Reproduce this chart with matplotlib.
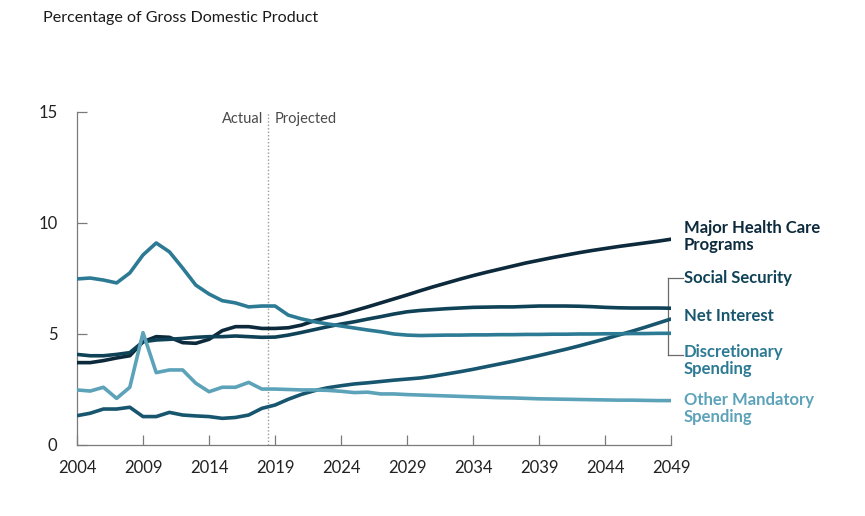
import matplotlib
matplotlib.use("Agg")

import matplotlib.pyplot as plt
import numpy as np

# ── Data (percentage of GDP), 2004-2049 ──
years = np.arange(2004, 2050)

health_care = [
    3.71, 3.71, 3.80, 3.92, 4.02, 4.65, 4.88, 4.85, 4.61, 4.58,
    4.76, 5.15, 5.33, 5.33, 5.25, 5.25, 5.28, 5.40, 5.60, 5.75,
    5.88, 6.05, 6.22, 6.40, 6.58, 6.76, 6.95, 7.13, 7.30, 7.47,
    7.63, 7.78, 7.92, 8.06, 8.20, 8.32, 8.44, 8.55, 8.66, 8.76,
    8.85, 8.94, 9.02, 9.10, 9.18, 9.27,
]
social_security = [
    4.08, 4.02, 4.02, 4.08, 4.16, 4.65, 4.73, 4.76, 4.80, 4.85,
    4.88, 4.88, 4.91, 4.88, 4.85, 4.86, 4.95, 5.07, 5.20, 5.33,
    5.45, 5.55, 5.67, 5.78, 5.90, 6.00, 6.06, 6.10, 6.14, 6.17,
    6.20, 6.21, 6.22, 6.22, 6.24, 6.26, 6.26, 6.26, 6.25, 6.23,
    6.20, 6.18, 6.17, 6.17, 6.17, 6.16,
]
net_interest = [
    1.32, 1.43, 1.62, 1.62, 1.70, 1.28, 1.28, 1.47, 1.35, 1.31,
    1.28, 1.20, 1.24, 1.35, 1.65, 1.80, 2.06, 2.28, 2.45, 2.58,
    2.67, 2.75, 2.80, 2.86, 2.92, 2.97, 3.02, 3.10, 3.20, 3.30,
    3.41, 3.53, 3.65, 3.77, 3.90, 4.03, 4.17, 4.31, 4.46, 4.62,
    4.78, 4.95, 5.12, 5.30, 5.49, 5.68,
]
discretionary = [
    7.48, 7.52, 7.43, 7.30, 7.75, 8.56, 9.10, 8.70, 7.97, 7.20,
    6.80, 6.50, 6.40, 6.22, 6.26, 6.26, 5.85, 5.68, 5.55, 5.45,
    5.36, 5.27, 5.18, 5.10, 5.00, 4.95, 4.93, 4.94, 4.95, 4.95,
    4.96, 4.96, 4.97, 4.97, 4.98, 4.98, 4.99, 4.99, 5.00, 5.00,
    5.01, 5.01, 5.02, 5.02, 5.03, 5.03,
]
other_mandatory = [
    2.48, 2.43, 2.60, 2.10, 2.60, 5.06, 3.26, 3.38, 3.38, 2.78,
    2.40, 2.60, 2.60, 2.82, 2.52, 2.52, 2.50, 2.48, 2.48, 2.46,
    2.42, 2.36, 2.38, 2.30, 2.30, 2.27, 2.25, 2.23, 2.21, 2.19,
    2.17, 2.15, 2.13, 2.12, 2.10, 2.08, 2.07, 2.06, 2.05, 2.04,
    2.03, 2.02, 2.02, 2.01, 2.00, 2.00,
]

series = [
    ("Major Health Care\nPrograms", health_care, "#0c2a3c"),
    ("Social Security", social_security, "#0f4257"),
    ("Net Interest", net_interest, "#17566e"),
    ("Discretionary\nSpending", discretionary, "#2c7a94"),
    ("Other Mandatory\nSpending", other_mandatory, "#5ca2b9"),
]

plt.rcParams["font.family"] = ["Lato", "DejaVu Sans"]

fig = plt.figure(figsize=(8.65, 5.16), dpi=100)
ax = fig.add_axes([0.089, 0.1376, 0.687, 0.6454])

for name, vals, color in series:
    ax.plot(years, vals, color=color, linewidth=2.6, solid_capstyle="butt",
            zorder=3)

ax.set_xlim(2004, 2049)
ax.set_ylim(0, 15)
ax.set_xticks(np.arange(2004, 2050, 5))
ax.set_yticks([0, 5, 10, 15])

for side in ("top", "right"):
    ax.spines[side].set_visible(False)
for side in ("left", "bottom"):
    ax.spines[side].set_color("#7a7a7a")
    ax.spines[side].set_linewidth(0.9)
ax.tick_params(axis="both", direction="in", length=7, width=0.9,
               color="#7a7a7a", labelsize=12, labelcolor="#222222")
ax.tick_params(axis="y", pad=14)
ax.tick_params(axis="x", pad=11)

# Actual / projected divider
ax.axvline(2018.5, ymin=0, ymax=1, color="#9a9a9a", linewidth=1.0,
           linestyle=(0, (1, 1.5)), zorder=2)
ax.text(2018.1, 14.68, "Actual", ha="right", va="center", fontsize=10.5,
        color="#4a4a4a")
ax.text(2019.0, 14.68, "Projected", ha="left", va="center", fontsize=10.5,
        color="#4a4a4a")

# Right-hand labels
label_pos = [
    (9.40, "Major Health Care\nPrograms", "#0c2a3c"),
    (7.54, "Social Security", "#0f4257"),
    (5.80, "Net Interest", "#17566e"),
    (3.80, "Discretionary\nSpending", "#2c7a94"),
    (1.65, "Other Mandatory\nSpending", "#5ca2b9"),
]
for y, text, color in label_pos:
    ax.text(2049.95, y, text, ha="left", va="center", fontsize=12,
            fontweight="bold", color=color, linespacing=1.12, clip_on=False)

# Bracket linking Social Security and Discretionary labels
bx = 2048.75
ax.plot([bx, bx], [7.54, 4.04], color="#6a6a6a", linewidth=0.9,
        clip_on=False, zorder=1)
ax.plot([bx, 2049.9], [7.54, 7.54], color="#6a6a6a", linewidth=0.9,
        clip_on=False, zorder=1)
ax.plot([bx, 2049.9], [4.04, 4.04], color="#6a6a6a", linewidth=0.9,
        clip_on=False, zorder=1)

fig.text(0.05, 0.966, "Percentage of Gross Domestic Product", ha="left",
         va="center", fontsize=11.6, color="#1a1a1a")

fig.savefig("out.png", dpi=100, facecolor="white")
plt.close(fig)
